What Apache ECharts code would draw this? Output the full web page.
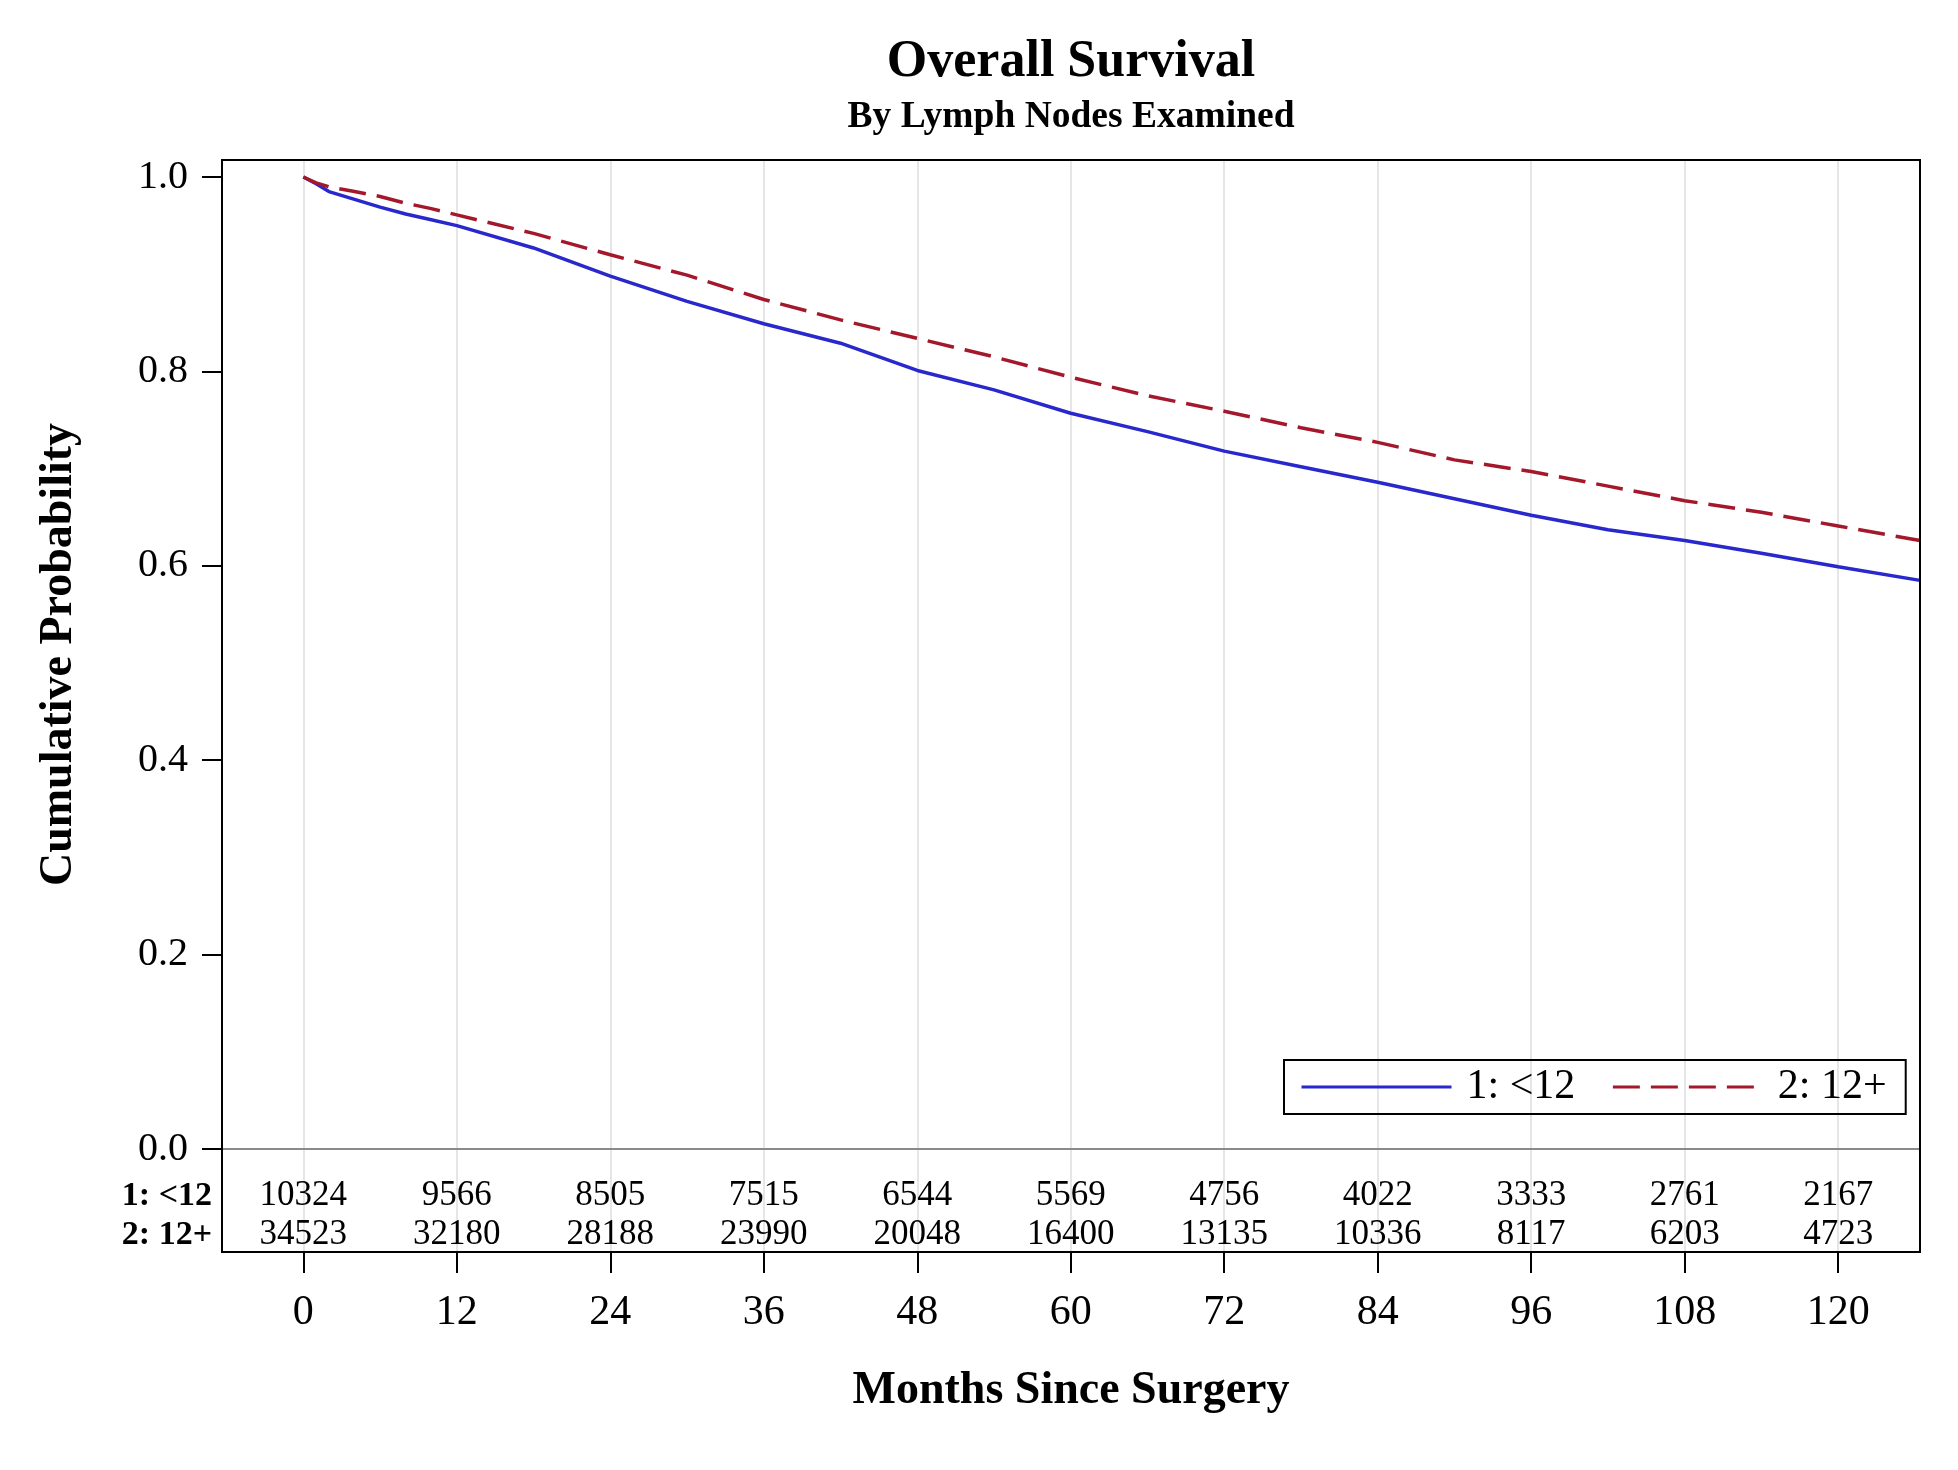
<!DOCTYPE html>
<html>
<head>
<meta charset="utf-8">
<script src="https://cdn.jsdelivr.net/npm/echarts@6/dist/echarts.min.js"></script>
<style>html,body{margin:0;padding:0;background:#fff}#c{width:1958px;height:1470px}</style>
</head>
<body>
<div id="c"></div>
<script>
const months = [0,1,2,4,6,8,10,12,18,24,30,36,42,48,54,60,66,72,78,84,90,96,102,108,114,120,126.4];
const survLt12 = [1.0,0.993,0.985,0.977,0.969,0.962,0.956,0.950,0.927,0.898,0.872,0.849,0.829,0.801,0.781,0.757,0.738,0.718,0.702,0.686,0.669,0.652,0.637,0.626,0.613,0.599,0.585];
const surv12p = [1.0,0.994,0.990,0.985,0.980,0.973,0.9675,0.961,0.942,0.920,0.899,0.874,0.853,0.834,0.815,0.794,0.775,0.759,0.742,0.727,0.709,0.697,0.682,0.667,0.655,0.641,0.626];
const riskMonths = [0,12,24,36,48,60,72,84,96,108,120];
const riskLt12 = [10324,9566,8505,7515,6544,5569,4756,4022,3333,2761,2167];
const risk12p = [34523,32180,28188,23990,20048,16400,13135,10336,8117,6203,4723];
const groupNames = ['1: <12','2: 12+'];
const xTicks = [0,12,24,36,48,60,72,84,96,108,120];
const yTicks = [0,0.2,0.4,0.6,0.8,1.0];

const FONT = 'Liberation Serif';
const xMin = -6.36, xMax = 126.4;

const chart = echarts.init(document.getElementById('c'), null, {renderer:'canvas'});
const riskData = [];
riskMonths.forEach((m,i)=>{ riskData.push([m,1,riskLt12[i]]); riskData.push([m,2,risk12p[i]]); });

const xBase = {
  type:'value', min:xMin, max:xMax,
  splitLine:{show:true, lineStyle:{color:'#e6e6e6', width:2}},
  axisTick:{customValues:xTicks},
  axisLabel:{customValues:xTicks}
};

chart.setOption({
  backgroundColor:'#fff',
  animation:false,
  title:[
    {text:'Overall Survival', left:1066, top:32, textAlign:'center',
     textStyle:{fontFamily:FONT, fontWeight:'bold', fontSize:52, color:'#000'}},
    {text:'By Lymph Nodes Examined', left:1066, top:93, textAlign:'center',
     textStyle:{fontFamily:FONT, fontWeight:'bold', fontSize:37.5, color:'#000'}}
  ],
  legend:{
    left:1284, top:1060, orient:'horizontal',
    borderColor:'#000', borderWidth:2, padding:[6,19,6,16],
    itemWidth:150, itemHeight:14, itemGap:36,
    itemStyle:{opacity:0},
    lineStyle:{width:3},
    textStyle:{fontFamily:FONT, fontSize:42, color:'#000', padding:[0,0,0,10]},
    data:groupNames
  },
  grid:[
    {left:222, right:38, top:160, height:989},
    {left:222, right:38, top:1149, height:103}
  ],
  xAxis:[
    Object.assign({}, xBase, {gridIndex:0,
      axisLine:{show:true, onZero:false, lineStyle:{color:'#8a8a8a', width:2}},
      axisTick:{show:false, customValues:xTicks},
      axisLabel:{show:false, customValues:xTicks}}),
    Object.assign({}, xBase, {gridIndex:1,
      axisLine:{show:false, onZero:false},
      axisTick:{show:true, inside:false, length:21, customValues:xTicks, lineStyle:{color:'#000', width:2}},
      axisLabel:{show:true, customValues:xTicks, margin:40, fontFamily:FONT, fontSize:42, color:'#000'},
      name:'Months Since Surgery', nameLocation:'middle', nameGap:116,
      nameTextStyle:{fontFamily:FONT, fontWeight:'bold', fontSize:46, color:'#000'}})
  ],
  yAxis:[
    {gridIndex:0, type:'value', min:0, max:1.0175,
     splitLine:{show:false},
     axisLine:{show:false, onZero:false},
     axisTick:{show:true, length:20, customValues:yTicks, lineStyle:{color:'#000', width:2}},
     axisLabel:{customValues:yTicks, margin:34, fontFamily:FONT, fontSize:40, color:'#000',
       formatter:v=>v.toFixed(1)},
     name:'Cumulative Probability', nameLocation:'middle', nameGap:140,
     nameTextStyle:{fontFamily:FONT, fontWeight:'bold', fontSize:46, color:'#000'}},
    {gridIndex:1, type:'value', min:-0.205, max:2.436, inverse:true,
     splitLine:{show:false}, axisLine:{show:false, onZero:false},
     axisTick:{show:false, customValues:[1,2]},
     axisLabel:{customValues:[1,2], margin:10, fontFamily:FONT, fontWeight:'bold', fontSize:34, color:'#000',
       formatter:v=>groupNames[Math.round(v)-1] || ''}}
  ],
  series:[
    {name:groupNames[0], type:'line', xAxisIndex:0, yAxisIndex:0, symbol:'none', showSymbol:false,
     color:'#2828cc', lineStyle:{color:'#2828cc', width:3.5},
     data:months.map((m,i)=>[m,survLt12[i]]), z:3},
    {name:groupNames[1], type:'line', xAxisIndex:0, yAxisIndex:0, symbol:'none', showSymbol:false,
     color:'#a3182b', lineStyle:{color:'#a3182b', width:3.5, type:[27,11]},
     data:months.map((m,i)=>[m,surv12p[i]]), z:4},
    {name:'atrisk', type:'scatter', xAxisIndex:1, yAxisIndex:1, symbol:'circle', symbolSize:1,
     itemStyle:{color:'rgba(0,0,0,0)'}, silent:true,
     label:{show:true, position:'inside', formatter:p=>String(p.value[2]),
       fontFamily:FONT, fontSize:35, color:'#000', textBorderWidth:0, textBorderColor:'transparent', opacity:1},
     data:riskData}
  ],
  graphic:[
    {type:'rect', z:100, silent:true,
     shape:{x:222, y:160, width:1698, height:1092},
     style:{fill:'none', stroke:'#000', lineWidth:2}}
  ]
});
</script>
</body>
</html>
